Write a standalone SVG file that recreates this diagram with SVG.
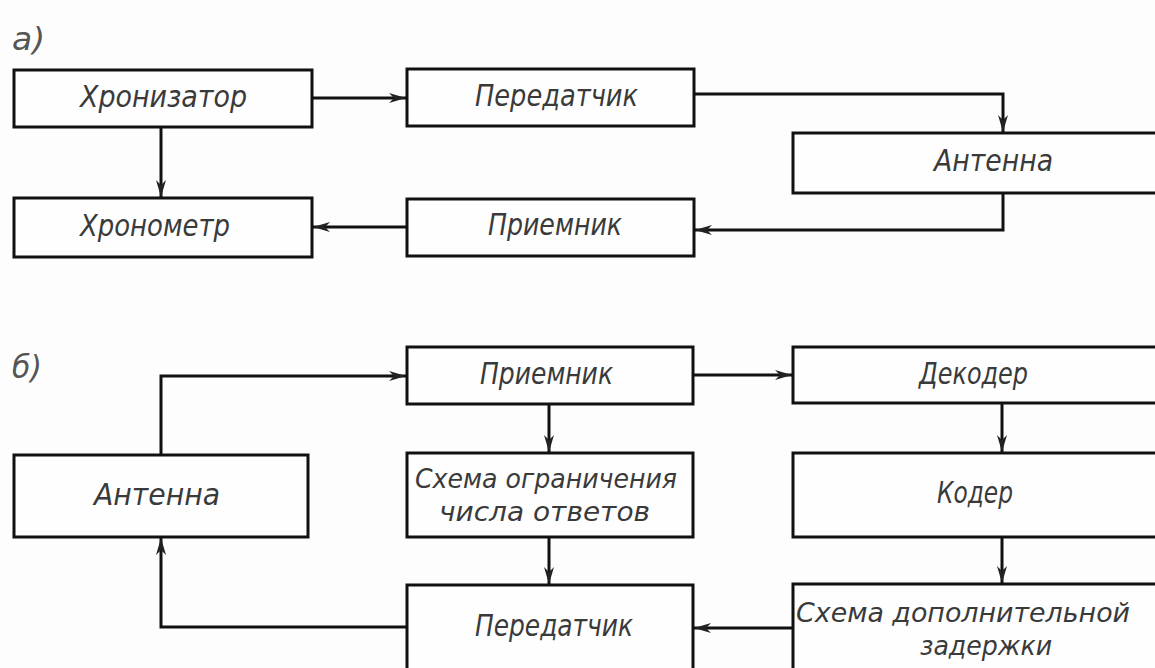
<svg xmlns="http://www.w3.org/2000/svg" width="1155" height="668" viewBox="0 0 1155 668">
<style>
.bg{fill:#fdfdfd}
.box{fill:#fefefe;stroke:#111;stroke-width:3}
.lbl{font-family:"DejaVu Sans Condensed","Liberation Sans Narrow","Liberation Sans",sans-serif;font-style:italic;font-size:31px;fill:#3a3a3a}
.lbl2{font-family:"DejaVu Sans Condensed","Liberation Sans Narrow","Liberation Sans",sans-serif;font-style:italic;font-size:27px;fill:#3a3a3a}
.sec{font-family:"DejaVu Sans Condensed","Liberation Sans Narrow",sans-serif;font-style:italic;font-size:32px;fill:#555}
.con{fill:none;stroke:#111;stroke-width:3}
</style>
<defs>
<marker id="arr" markerUnits="userSpaceOnUse" markerWidth="20" markerHeight="12" refX="17" refY="6" orient="auto">
<path d="M0,1 L17,6 L0,11 L5,6 z" fill="#222"/>
</marker>
</defs>
<rect class="bg" x="0" y="0" width="1155" height="668"/>
<text class="sec" x="12" y="50" textLength="33" lengthAdjust="spacingAndGlyphs">a)</text>
<text class="sec" x="12" y="378" textLength="30" lengthAdjust="spacingAndGlyphs">б)</text>

<g id="connectors">
<path class="con" d="M312 98 H406" marker-end="url(#arr)"/>
<path class="con" d="M161 127 V197" marker-end="url(#arr)"/>
<path class="con" d="M694 94 H1003 V132" marker-end="url(#arr)"/>
<path class="con" d="M1003 193 V230 H695" marker-end="url(#arr)"/>
<path class="con" d="M407 227 H313" marker-end="url(#arr)"/>
<path class="con" d="M161 455 V376 H406" marker-end="url(#arr)"/>
<path class="con" d="M693 375 H792" marker-end="url(#arr)"/>
<path class="con" d="M549 404 V452" marker-end="url(#arr)"/>
<path class="con" d="M549 537 V584" marker-end="url(#arr)"/>
<path class="con" d="M1002 403 V452" marker-end="url(#arr)"/>
<path class="con" d="M1002 537 V583" marker-end="url(#arr)"/>
<path class="con" d="M793 628 H694" marker-end="url(#arr)"/>
<path class="con" d="M407 627 H161 V538" marker-end="url(#arr)"/>
</g>

<g id="a-khronizator"><rect class="box" x="14" y="70" width="298" height="57"/><text class="lbl" x="80" y="107" textLength="167" lengthAdjust="spacingAndGlyphs">Хронизатор</text></g>
<g id="a-peredatchik"><rect class="box" x="407" y="69" width="287" height="57"/><text class="lbl" x="475" y="106" textLength="163" lengthAdjust="spacingAndGlyphs">Передатчик</text></g>
<g id="a-antenna"><rect class="box" x="793" y="133" width="370" height="60"/><text class="lbl" x="934" y="171" textLength="119" lengthAdjust="spacingAndGlyphs">Антенна</text></g>
<g id="a-khronometr"><rect class="box" x="14" y="198" width="298" height="59"/><text class="lbl" x="80" y="236" textLength="150" lengthAdjust="spacingAndGlyphs">Хронометр</text></g>
<g id="a-priemnik"><rect class="box" x="407" y="199" width="287" height="57"/><text class="lbl" x="488" y="235" textLength="134" lengthAdjust="spacingAndGlyphs">Приемник</text></g>

<g id="b-priemnik"><rect class="box" x="407" y="347" width="286" height="57"/><text class="lbl" x="480" y="384" textLength="133" lengthAdjust="spacingAndGlyphs">Приемник</text></g>
<g id="b-dekoder"><rect class="box" x="793" y="347" width="370" height="56"/><text class="lbl" x="919" y="384" textLength="109" lengthAdjust="spacingAndGlyphs">Декодер</text></g>
<g id="b-antenna"><rect class="box" x="14" y="455" width="294" height="82"/><text class="lbl" x="94" y="505" textLength="126" lengthAdjust="spacingAndGlyphs">Антенна</text></g>
<g id="b-skhema-ogr"><rect class="box" x="407" y="453" width="286" height="84"/><text class="lbl2" x="415" y="488" textLength="262" lengthAdjust="spacingAndGlyphs">Схема ограничения</text><text class="lbl2" x="439" y="521" textLength="211" lengthAdjust="spacingAndGlyphs">числа ответов</text></g>
<g id="b-koder"><rect class="box" x="793" y="453" width="370" height="84"/><text class="lbl" x="937" y="503" textLength="76" lengthAdjust="spacingAndGlyphs">Кодер</text></g>
<g id="b-peredatchik"><rect class="box" x="407" y="585" width="286" height="95"/><text class="lbl" x="475" y="636" textLength="158" lengthAdjust="spacingAndGlyphs">Передатчик</text></g>
<g id="b-skhema-dop"><rect class="box" x="793" y="584" width="370" height="96"/><text class="lbl2" x="796" y="622" textLength="334" lengthAdjust="spacingAndGlyphs">Схема дополнительной</text><text class="lbl2" x="920" y="655" textLength="132" lengthAdjust="spacingAndGlyphs">задержки</text></g>
</svg>
